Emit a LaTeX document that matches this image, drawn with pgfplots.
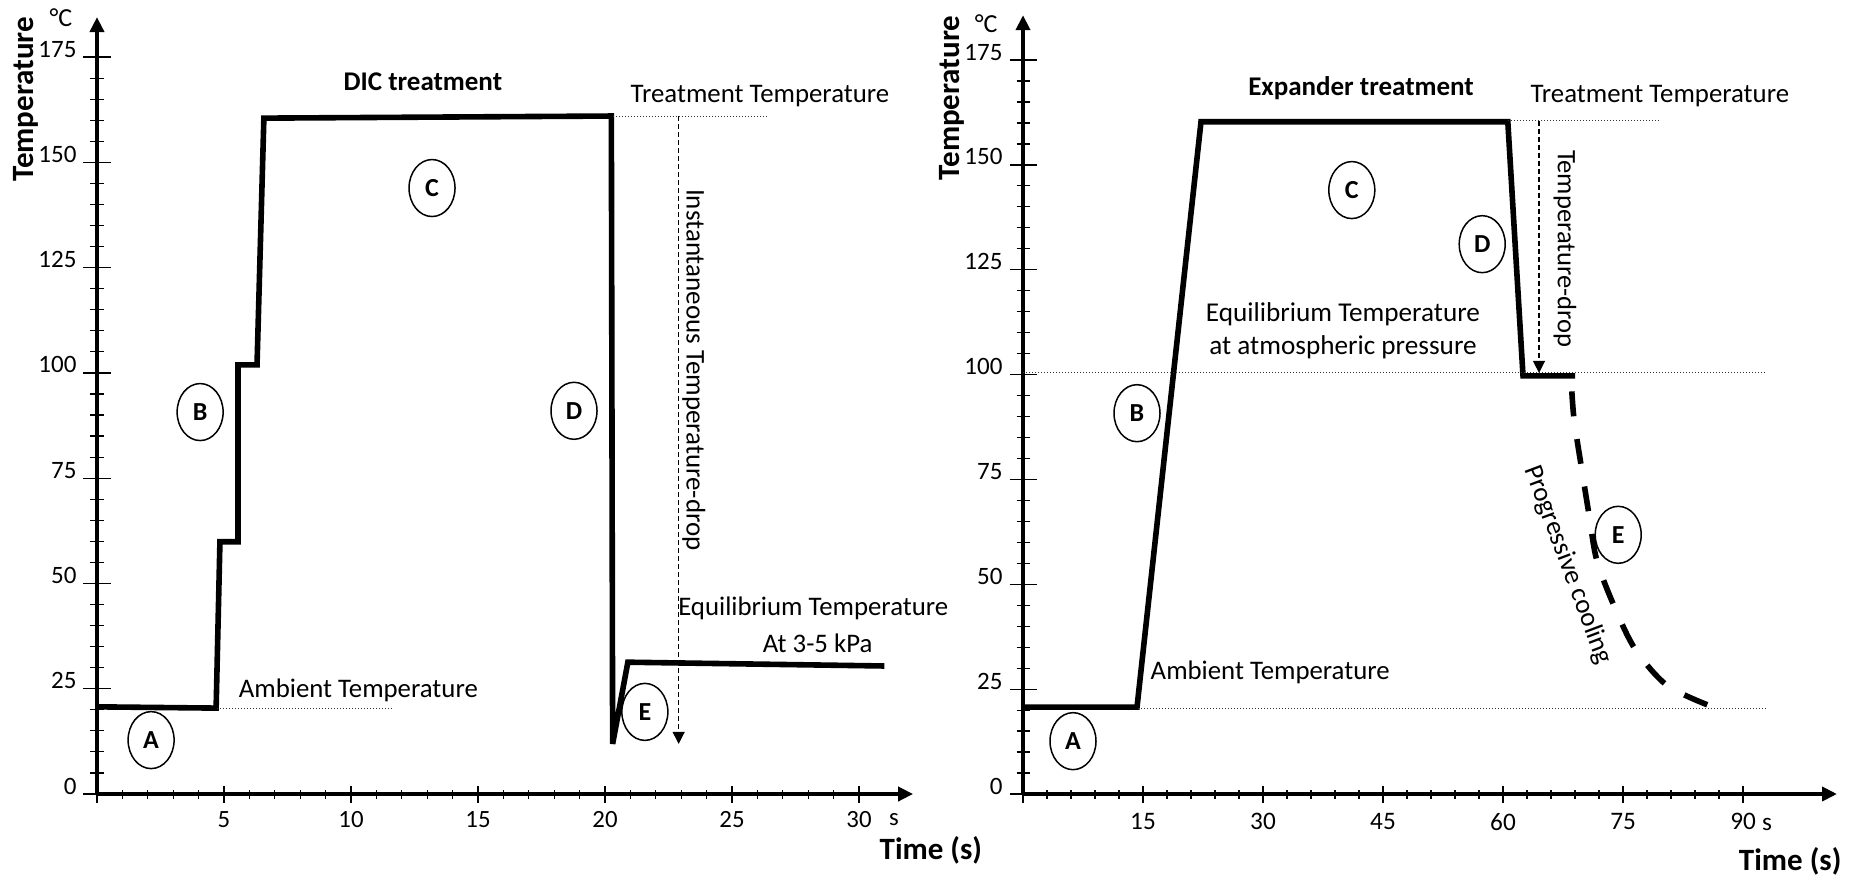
\documentclass[border=0pt]{standalone}
\usepackage{fontspec}
\setmainfont{Carlito}
\usepackage{pgfplots}
\pgfplotsset{compat=1.18}
\usetikzlibrary{arrows.meta,shapes.geometric}

\tikzset{
  circ/.style={draw, ellipse, line width=0.75pt, minimum width=23pt, minimum height=28.5pt, inner sep=0pt, font=\bfseries\fontsize{13}{13}\selectfont},
  txt/.style={font=\fontsize{13.4}{13.4}\selectfont},
}
\pgfplotsset{
  panel/.style={
    clip=false, enlargelimits=false, anchor=origin,
    axis line style={line width=2.4pt},
    every tick/.style={black, line width=0.6pt},
    tick align=inside,
    /pgf/number format/assume math mode=true,
  },
  leftgeom/.style={x=12.7pt, y=2.1055pt, xmin=0, xmax=32.13, ymin=0, ymax=184.5, at={(48.5pt,-397pt)}},
  rightgeom/.style={x=4pt, y=2.097pt, xmin=0, xmax=101.75, ymin=0, ymax=185.7, at={(511.5pt,-397pt)}},
  yaxisonly/.style={axis x line=none, axis y line=left, xtick=\empty,
    ytick={0,25,...,175}, minor y tick num=4,
    major tick length=13.5pt, minor tick length=6.5pt,
    yticklabel style={font=\fontsize{12.5}{12.5}\selectfont, yshift=4pt},
    y axis line style={-{Triangle[length=7.5pt,width=7pt]}}},
  xaxisonly/.style={axis y line=none, axis x line=bottom, ytick=\empty,
    minor x tick num=4,
    major tick length=8.5pt, minor tick length=4.5pt,
    x axis line style={-{Triangle[length=7.5pt,width=7pt]}}},
  curve/.style={line width=2.8pt, black, no marks},
  guide/.style={black!80, line width=0.5pt, densely dotted, no marks},
  droparrow/.style={black, line width=0.6pt, dash pattern=on 2.5pt off 1.5pt, -{Triangle[length=6pt,width=6pt]}, no marks},
}

\begin{document}
\begin{tikzpicture}
\useasboundingbox (0pt,0pt) rectangle (928.5pt,-438.5pt);

% ---------------- Left panel: DIC treatment ----------------
\begin{axis}[panel, leftgeom, xaxisonly,
  xtick={0,5,...,30}, xticklabels={,5,10,15,20,25,30},
  xticklabel style={font=\fontsize{12.4}{12.4}\selectfont, yshift=-1pt}]
\end{axis}

\begin{axis}[panel, leftgeom, yaxisonly]
\addplot[curve] coordinates {(0,20.7) (4.69,20.4) (4.84,59.9) (5.55,59.9) (5.55,101.9) (6.3,101.9) (6.57,160.5) (20.25,161) (20.3,11.9) (20.9,31.3) (31.0,30.4)};
\addplot[guide] coordinates {(4.72,20.3) (11.6,20.3)};
\addplot[guide] coordinates {(20.3,161) (26.4,161)};
\addplot[droparrow] coordinates {(22.9,161) (22.9,11.9)};

\node[font=\bfseries\fontsize{15.5}{15.5}\selectfont, rotate=90] at (axis cs:-2.8,165) {Temperature};
\node[font=\fontsize{13}{13}\selectfont] at (axis cs:-1.42,184.3) {°C};
\node[font=\bfseries\fontsize{13.5}{13.5}\selectfont] at (axis cs:12.83,169.1) {DIC treatment};
\node[txt] at (axis cs:26.1,165.8) {Treatment Temperature};
\node[font=\fontsize{13.5}{13.5}\selectfont, rotate=-90] at (axis cs:23.5,100.7) {Instantaneous Temperature-drop};
\node[txt] at (axis cs:28.2,44.2) {Equilibrium Temperature};
\node[txt] at (axis cs:28.37,35.9) {At 3-5 kPa};
\node[txt] at (axis cs:10.29,24.7) {Ambient Temperature};
\node[font=\fontsize{12.4}{12.4}\selectfont, anchor=base] at (axis cs:31.38,-7.4) {s};
\node[font=\bfseries\fontsize{15.5}{15.5}\selectfont] at (axis cs:32.83,-13.3) {Time (s)};

\node[circ] at (axis cs:2.13,12.8) {A};
\node[circ] at (axis cs:4.06,90.7) {B};
\node[circ] at (axis cs:13.19,143.9) {C};
\node[circ] at (axis cs:18.78,91.0) {D};
\node[circ] at (axis cs:21.57,19.5) {E};
\end{axis}

% ---------------- Right panel: Expander treatment ----------------
\begin{axis}[panel, rightgeom, xaxisonly,
  xtick={0,15,...,90}, xticklabels={,15,30,45,60,75,90},
  xticklabel style={font=\fontsize{12.6}{12.6}\selectfont, yshift=-2pt}]
\end{axis}

\begin{axis}[panel, rightgeom, yaxisonly]
\addplot[curve] coordinates {(0,20.7) (14.25,20.7) (22.25,160.3) (60.6,160.3) (62.5,99.7) (69,99.7)};
\addplot[curve, dash pattern=on 12.5pt off 11.5pt, smooth] coordinates {(68.6,96) (68.9,89) (69.8,77.9) (70.7,67.2) (71.7,55.9) (73.8,45.2) (76.5,34.6) (80.5,25.9) (85.9,21.0)};
\addplot[guide] coordinates {(14.4,20.3) (93,20.3)};
\addplot[guide] coordinates {(0,100.4) (93,100.4)};
\addplot[guide] coordinates {(60.6,160.7) (79.4,160.7)};
\addplot[droparrow] coordinates {(64.5,160.5) (64.5,100.4)};

\node[font=\bfseries\fontsize{15.5}{15.5}\selectfont, rotate=90] at (axis cs:-8.9,166) {Temperature};
\node[font=\fontsize{13}{13}\selectfont] at (axis cs:-4.6,183.6) {°C};
\node[font=\bfseries\fontsize{13.5}{13.5}\selectfont] at (axis cs:42.25,168.3) {Expander treatment};
\node[txt] at (axis cs:79.6,166.4) {Treatment Temperature};
\node[font=\fontsize{13.3}{13.3}\selectfont, rotate=-90] at (axis cs:67.75,130) {Temperature-drop};
\node[font=\fontsize{13.6}{16.5}\selectfont, align=center] at (axis cs:40,110.5) {Equilibrium Temperature\\at atmospheric pressure};
\node[txt] at (axis cs:30.9,28.9) {Ambient Temperature};
\node[font=\fontsize{13.5}{13.5}\selectfont, rotate=-69.4] at (axis cs:68.1,54.6) {Progressive cooling};
\node[font=\fontsize{12.6}{12.6}\selectfont, anchor=base] at (axis cs:93,-8.6) {s};
\node[font=\bfseries\fontsize{15.5}{15.5}\selectfont] at (axis cs:95.9,-16) {Time (s)};

\node[circ] at (axis cs:6.25,12.6) {A};
\node[circ] at (axis cs:14.25,90.8) {B};
\node[circ] at (axis cs:41.1,144) {C};
\node[circ] at (axis cs:57.4,131.1) {D};
\node[circ] at (axis cs:74.4,61.8) {E};
\end{axis}
\end{tikzpicture}
\end{document}
